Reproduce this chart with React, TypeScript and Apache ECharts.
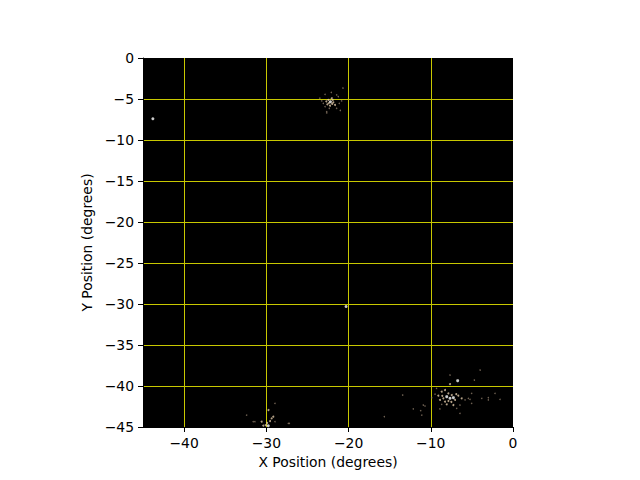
import React, { useEffect, useRef } from "react";
import * as echarts from "echarts";

const xTicks = [-40, -30, -20, -10, 0];
const yRange = [-45, 0];
const xRange = [-45, 0];

const starsBright: [number, number][] = [
  [-43.8, -7.4], [-22.2, -5.33], [-6.73, -39.35], [-7.66, -41.5], [-8.06, -41.3],
  [-7.25, -41.42], [-29.77, -44.84], [-20.3, -30.3],
];

const starsMid: [number, number][] = [
  [-22.46, -5.12], [-21.93, -5.12], [-22.05, -4.91], [-21.85, -5.4], [-22.26, -5.82],
  [-22.58, -5.65], [-21.65, -5.73], [-22.4, -5.5], [-22.0, -5.6], [-22.7, -5.3],
  [-7.66, -39.76], [-8.27, -40.49], [-8.67, -40.69], [-7.86, -40.89], [-7.45, -41.1],
  [-8.47, -41.5], [-7.05, -41.7], [-7.86, -41.83], [-8.27, -41.91], [-8.88, -41.7],
  [-6.65, -41.18], [-6.24, -41.5], [-8.06, -42.23], [-7.25, -42.32], [-9.08, -41.18],
  [-8.6, -41.2], [-7.5, -41.95], [-6.9, -41.0],
  [-29.74, -42.93], [-29.15, -43.74], [-29.55, -44.27], [-29.35, -43.94], [-30.08, -44.76],
  [-30.37, -44.84], [-30.57, -44.35], [-29.9, -44.5],
];

const starsFaint: [number, number][] = [
  [-22.86, -4.43], [-21.25, -4.72], [-22.66, -6.55], [-23.07, -5.53], [-21.13, -5.53],
  [-23.27, -5.24], [-22.34, -6.13], [-21.45, -6.13], [-22.86, -5.94], [-20.85, -5.24],
  [-20.68, -3.66], [-21.45, -4.5], [-22.66, -6.7], [-23.5, -4.9], [-21.0, -6.4], [-22.1, -4.2],
  [-5.84, -41.7], [-5.43, -41.5], [-9.49, -41.0], [-9.89, -41.43], [-6.45, -42.32],
  [-8.67, -42.23], [-6.85, -42.72], [-5.03, -40.89], [-5.03, -42.11], [-4.0, -38.05],
  [-7.66, -38.66], [-4.7, -39.27], [-10.91, -42.32], [-11.1, -43.54], [-6.45, -43.33],
  [-1.58, -41.62], [-2.19, -40.89], [-3.8, -41.5], [-3.0, -41.42], [-3.0, -41.7],
  [-5.23, -41.62], [-13.42, -41.1], [-12.13, -42.8], [-11.23, -43.0], [-10.7, -42.44],
  [-15.65, -43.74], [-9.3, -40.3], [-8.9, -42.8],
  [-31.4, -44.35], [-28.95, -44.35], [-27.33, -44.55], [-32.4, -43.54], [-28.95, -42.11],
  [-31.6, -44.35], [-27.2, -44.55],
];

const minus = (v: number) => String(v).replace("-", "\u2212");

export default function App() {
  const ref = useRef<HTMLDivElement>(null);
  useEffect(() => {
    if (!ref.current) return;
    const chart = echarts.init(ref.current, undefined, { renderer: "svg" });
    const font = "DejaVu Sans";
    const gridColor = "#c8c800";
    chart.setOption({
      animation: false,
      backgroundColor: "#ffffff",
      grid: {
        left: 143,
        right: 127,
        top: 58,
        bottom: 53,
        show: true,
        backgroundColor: "#000000",
        borderWidth: 0,
      },
      xAxis: {
        type: "value",
        min: xRange[0],
        max: xRange[1],
        splitNumber: 5,
        name: "X Position (degrees)",
        nameLocation: "middle",
        nameGap: 28,
        nameTextStyle: { fontFamily: font, fontSize: 13.9, color: "#000" },
        axisLine: { show: true, onZero: false, lineStyle: { color: "#000", width: 1 } },
        axisTick: { show: true, length: 5, customValues: xTicks, lineStyle: { color: "#000" } },
        axisLabel: {
          customValues: xTicks,
          showMinLabel: true,
          margin: 9,
          fontFamily: font,
          fontSize: 13.9,
          color: "#000",
          formatter: (v: number) => minus(v),
        },
        splitLine: { show: true, showMinLine: true, showMaxLine: false, lineStyle: { color: gridColor, width: 1 } },
      },
      yAxis: {
        type: "value",
        min: yRange[0],
        max: yRange[1],
        interval: 5,
        name: "Y Position (degrees)",
        nameLocation: "middle",
        nameGap: 38,
        nameTextStyle: { fontFamily: font, fontSize: 13.9, color: "#000" },
        axisLine: { show: true, onZero: false, lineStyle: { color: "#000", width: 1 } },
        axisTick: { show: true, length: 5, lineStyle: { color: "#000" } },
        axisLabel: {
          margin: 9,
          fontFamily: font,
          fontSize: 13.9,
          color: "#000",
          formatter: (v: number) => minus(v),
        },
        splitLine: { show: true, showMinLine: false, showMaxLine: false, lineStyle: { color: gridColor, width: 1 } },
      },
      series: [
        {
          type: "scatter",
          data: starsFaint,
          symbolSize: 1.5,
          itemStyle: { color: "#8c7b68" },
          silent: true,
        },
        {
          type: "scatter",
          data: starsMid,
          symbolSize: 2,
          itemStyle: { color: "#e0c8a8" },
          silent: true,
        },
        {
          type: "scatter",
          data: starsBright,
          symbolSize: 3,
          itemStyle: { color: "#ffffff" },
          silent: true,
        },
      ],
    });
    return () => chart.dispose();
  }, []);
  return <div ref={ref} style={{ width: 640, height: 480, position: "absolute", left: 0, top: 0 }} />;
}
